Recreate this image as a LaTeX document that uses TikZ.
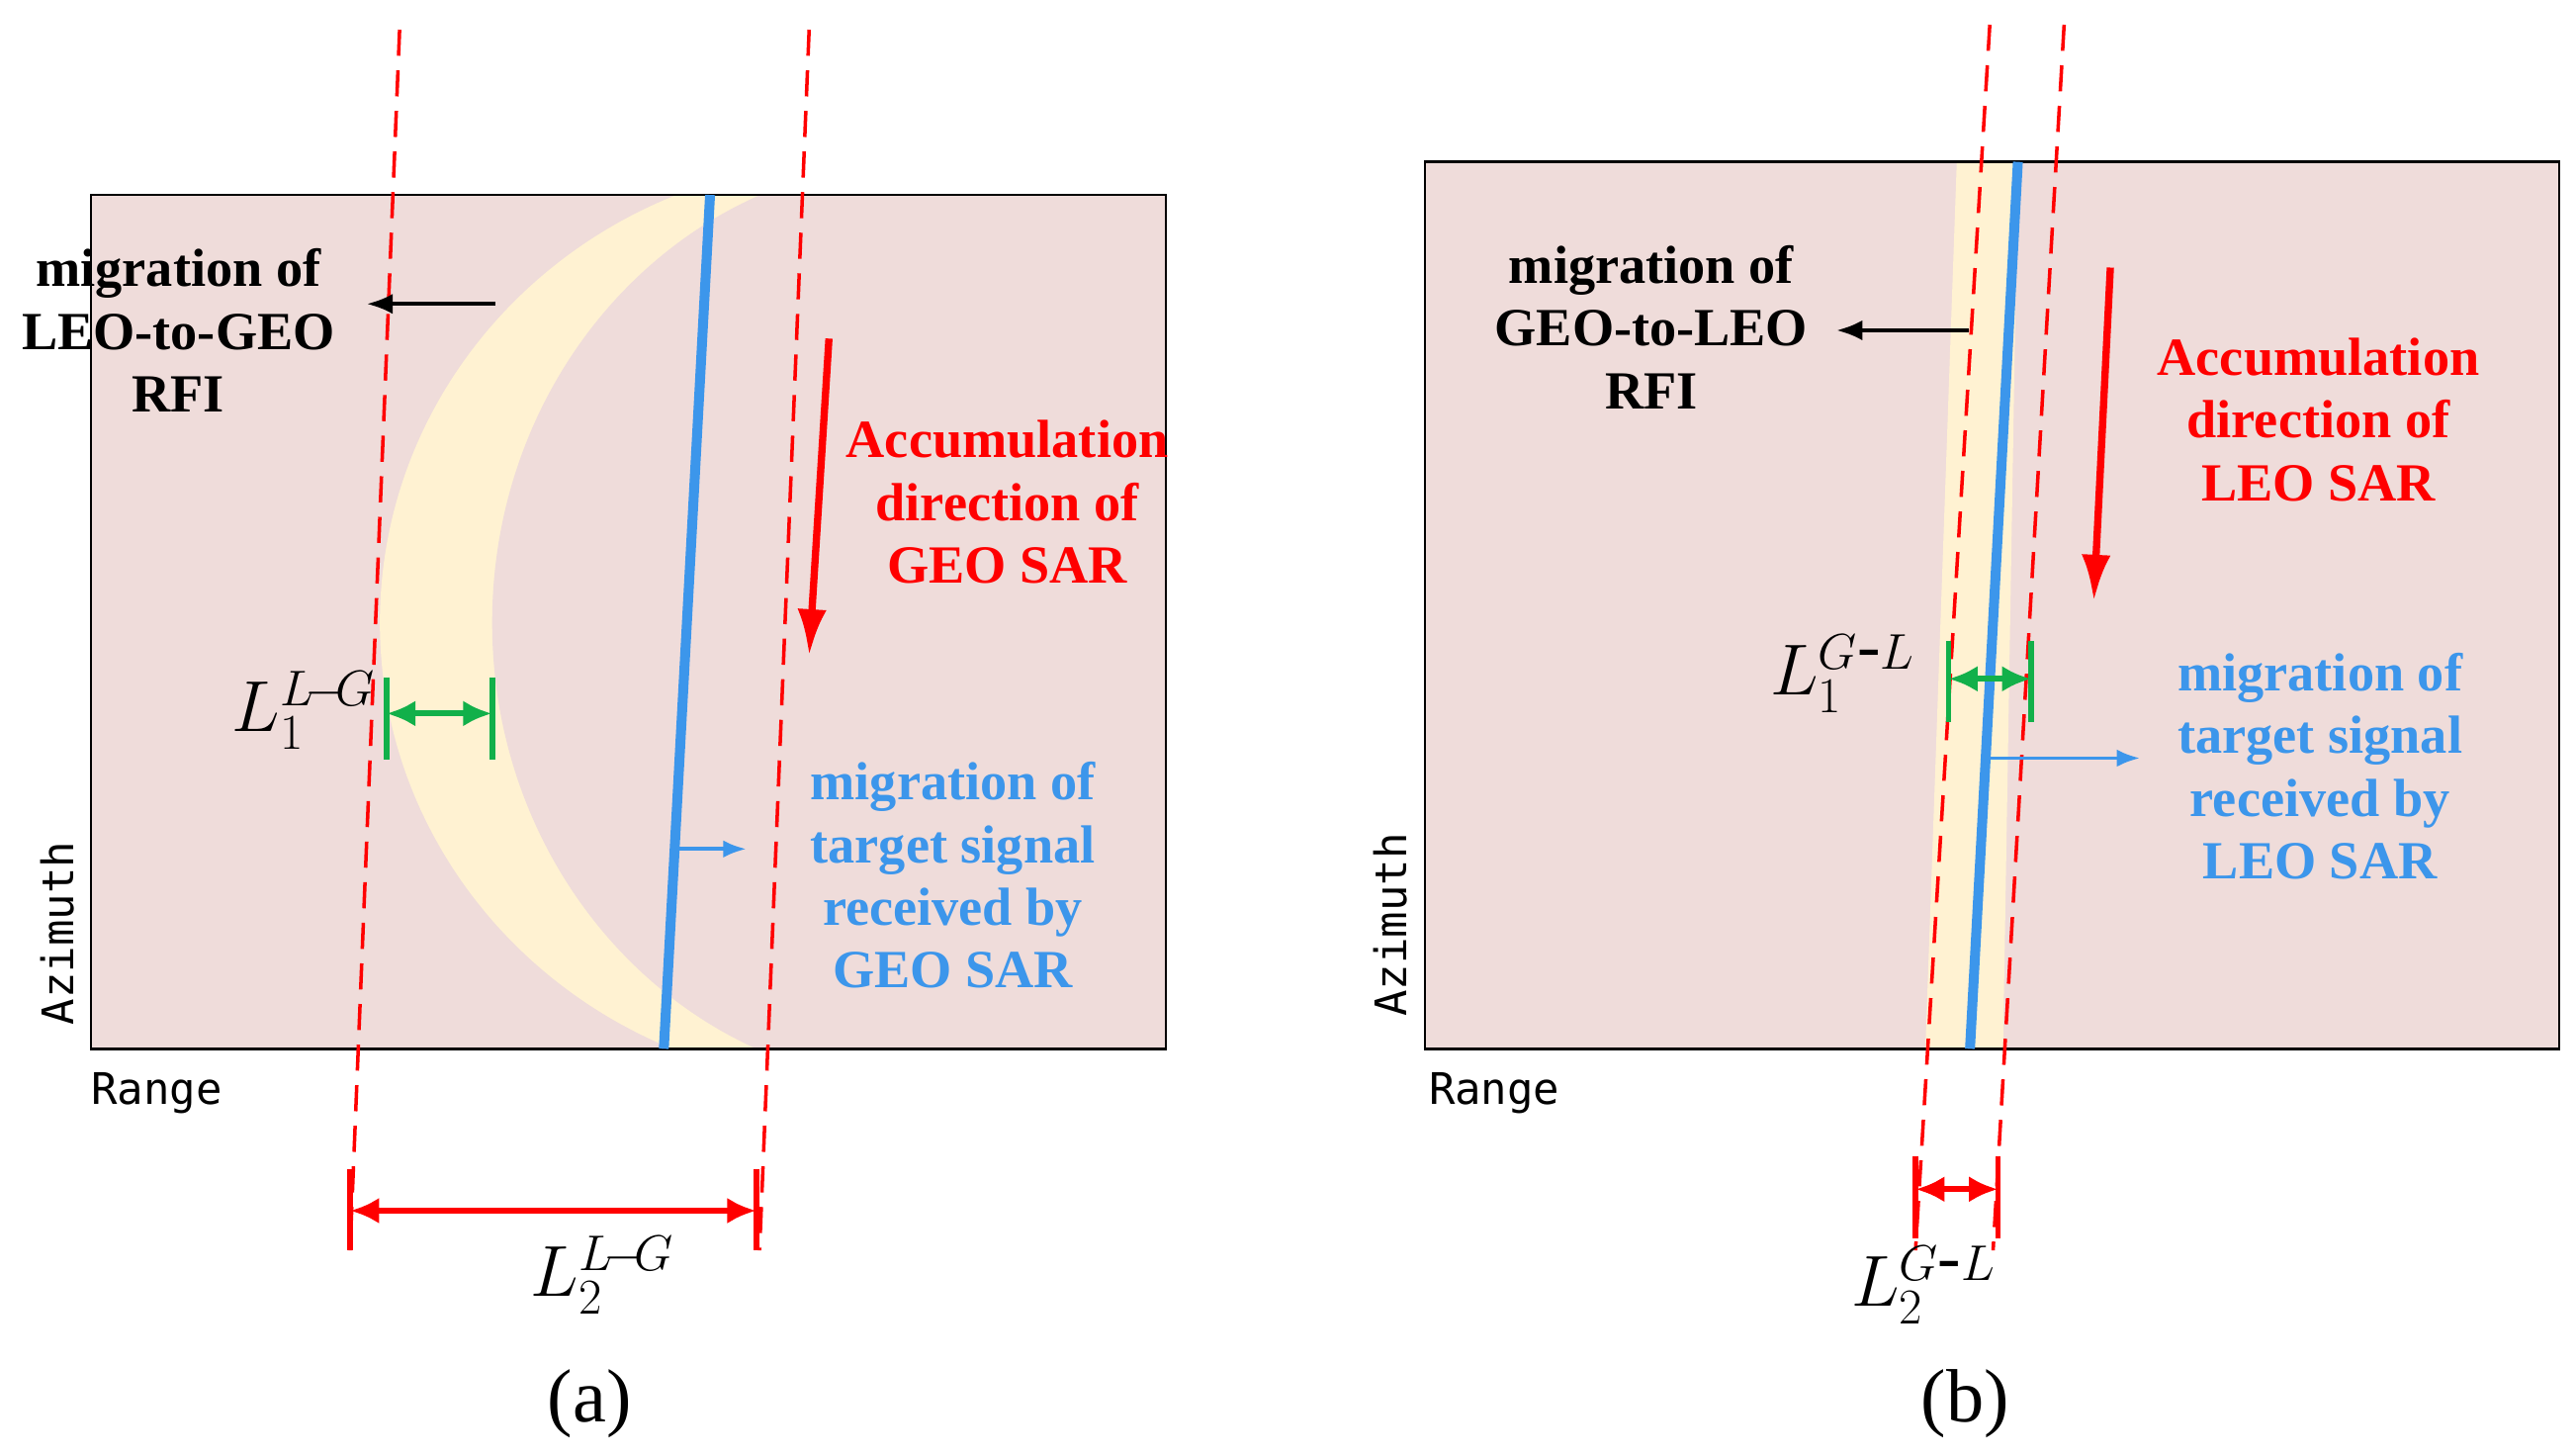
\documentclass[tikz,border=0pt]{standalone}
\usepackage{fontspec}
\setmainfont{Liberation Serif}
\newfontfamily\monof{DejaVu Sans Mono}
\usetikzlibrary{arrows.meta}
\definecolor{bgp}{HTML}{EFDCDA}
\definecolor{yel}{HTML}{FFF2D2}
\definecolor{rd}{HTML}{FF0000}
\definecolor{bl}{HTML}{3C96EB}
\definecolor{gr}{HTML}{12B04A}
\begin{document}
\begin{tikzpicture}[x=0.02cm,y=-0.02cm,
 lbl/.style={font=\fontsize{18.5}{21.6}\selectfont\bfseries,align=center},
 axl/.style={font=\monof\fontsize{15}{18}\selectfont},
 rdash/.style={rd,line width=1.2pt,dash pattern=on 9pt off 5pt},
 sig/.style={bl,line width=0.12cm},
 meas/.style={line width=2pt,{Latex[length=10pt,width=9pt]}-{Latex[length=10pt,width=9pt]}},
 bar/.style={line width=2pt},
 Lt/.style={font=\fontsize{24}{28}\selectfont}]
\useasboundingbox (0,0) rectangle (1560,881);
% panel a
\fill[bgp] (55,118) rectangle (706,635);
\begin{scope}
\clip (55,118) rectangle (706,635);
\fill[yel] (520,377) ellipse [x radius=5.8cm,y radius=5.6cm];
\fill[bgp] (560,377) ellipse [x radius=5.24cm,y radius=5.6cm];
\end{scope}
\draw[black,line width=0.8pt] (55,118) rectangle (706,635);
\coordinate (ba1) at (430,118); \coordinate (ba2) at (402,635);
\draw[sig] (ba1) -- (ba2);
\coordinate (da1) at (242,18); \coordinate (da2) at (212,757);
\coordinate (db1) at (490,18); \coordinate (db2) at (460,757);
\draw[rdash] (da1) -- (da2); \draw[rdash] (db1) -- (db2);
\coordinate (ka1) at (300,184); \coordinate (ka2) at (222,184);
\draw[line width=1.5pt,-{Latex[length=9pt,width=7pt]}] (ka1) -- (ka2);
\coordinate (ra1) at (502,205); \coordinate (ra2) at (490,397);
\draw[rd,line width=2.5pt,-{Latex[length=16pt,width=10pt]}] (ra1) -- (ra2);
\coordinate (ga1) at (234,432); \coordinate (ga2) at (298,432);
\draw[gr,meas] (ga1) -- (ga2);
\draw[gr,bar] (234,410) -- (234,460) (298,410) -- (298,460);
\coordinate (sa1) at (410,514); \coordinate (sa2) at (452,514);
\draw[bl,line width=1.3pt,-{Latex[length=8pt,width=6pt]}] (sa1) -- (sa2);
\coordinate (ma1) at (212,733); \coordinate (ma2) at (458,733);
\draw[rd,meas] (ma1) -- (ma2);
\draw[rd,bar] (212,708) -- (212,757) (458,708) -- (458,757);
\node[lbl] (ta) at (108,200) {migration of\\LEO-to-GEO\\RFI};
\node[lbl,rd] (aa) at (610,304) {Accumulation\\direction of\\GEO SAR};
\node[lbl,bl] (ba) at (577,530) {migration of\\target signal\\received by\\GEO SAR};
\node[Lt] (l1a) at (184,430) {$L_1^{L\!-\!G}$};
\node[Lt] (l2a) at (365,772) {$L_2^{L\!-\!G}$};
\node[axl] (rga) at (95,662) {Range};
\node[axl,rotate=90] (aza) at (35,565) {Azimuth};
\node[font=\fontsize{26}{30}\selectfont] (capa) at (357,850) {(a)};
% panel b
\fill[bgp] (863,98) rectangle (1550,635);
\fill[yel] (1185,98) -- (1222,98) -- (1213,635) -- (1166,635) -- cycle;
\draw[black,line width=0.8pt] (863,98) rectangle (1550,635);
\coordinate (bb1) at (1222,98); \coordinate (bb2) at (1193,635);
\draw[sig] (bb1) -- (bb2);
\coordinate (dc1) at (1205,15); \coordinate (dc2) at (1160,757);
\coordinate (dd1) at (1250,15); \coordinate (dd2) at (1207,757);
\draw[rdash] (dc1) -- (dc2); \draw[rdash] (dd1) -- (dd2);
\coordinate (kb1) at (1192,200); \coordinate (kb2) at (1112,200);
\draw[line width=1.5pt,-{Latex[length=9pt,width=7pt]}] (kb1) -- (kb2);
\coordinate (rb1) at (1278,162); \coordinate (rb2) at (1268,364);
\draw[rd,line width=2.5pt,-{Latex[length=16pt,width=10pt]}] (rb1) -- (rb2);
\coordinate (gb1) at (1180,411); \coordinate (gb2) at (1230,411);
\draw[gr,meas] (gb1) -- (gb2);
\draw[gr,bar] (1180,388) -- (1180,437) (1230,388) -- (1230,437);
\coordinate (sb1) at (1205,459); \coordinate (sb2) at (1296,459);
\draw[bl,line width=1.3pt,-{Latex[length=8pt,width=6pt]}] (sb1) -- (sb2);
\coordinate (mb1) at (1160,720); \coordinate (mb2) at (1210,720);
\draw[rd,meas] (mb1) -- (mb2);
\draw[rd,bar] (1160,700) -- (1160,750) (1210,700) -- (1210,750);
\node[lbl] (tb) at (1000,198) {migration of\\GEO-to-LEO\\RFI};
\node[lbl,rd] (ab) at (1404,254) {Accumulation\\direction of\\LEO SAR};
\node[lbl,bl] (bbt) at (1405,464) {migration of\\target signal\\received by\\LEO SAR};
\node[Lt] (l1b) at (1116,408) {$L_1^{G\mbox{-}L}$};
\node[Lt] (l2b) at (1165,778) {$L_2^{G\mbox{-}L}$};
\node[axl] (rgb) at (905,662) {Range};
\node[axl,rotate=90] (azb) at (842,560) {Azimuth};
\node[font=\fontsize{26}{30}\selectfont] (capb) at (1190,850) {(b)};
\end{tikzpicture}
\end{document}
